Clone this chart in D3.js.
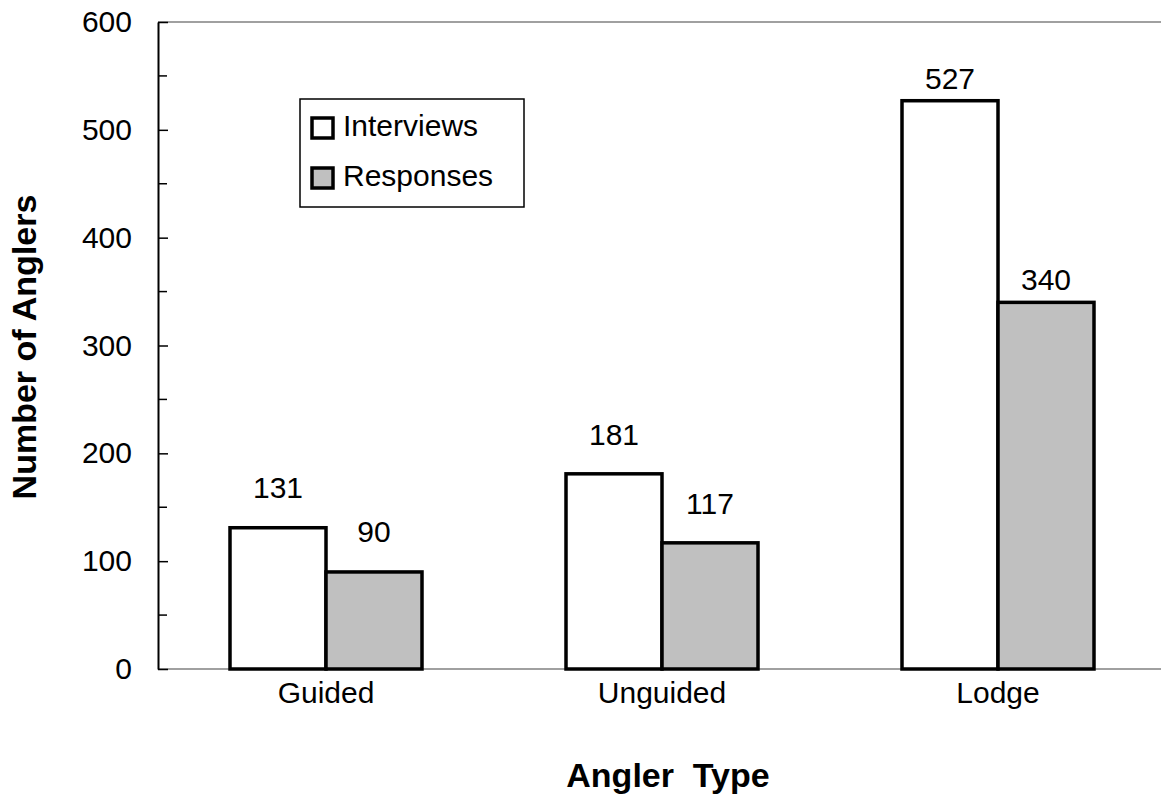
<!DOCTYPE html>
<html>
<head>
<meta charset="utf-8">
<script src="https://cdn.jsdelivr.net/npm/d3@7"></script>
<style>
  html, body { margin: 0; padding: 0; background: #fff; }
  svg { display: block; font-family: "Liberation Sans", Arial, sans-serif; }
</style>
</head>
<body>
<svg id="chart" width="1161" height="797"></svg>
<script>
// Angler survey counts by angler type
const categories = ["Guided", "Unguided", "Lodge"];
const seriesNames = ["Interviews", "Responses"];
const interviews = [131, 181, 527];
const responses = [90, 117, 340];
const yTicks = [0, 100, 200, 300, 400, 500, 600];

// label lift above each bar top (px), per category
const labelLift = [30, 29, 12];

const colors = { Interviews: "#ffffff", Responses: "#c0c0c0" };

const svg = d3.select("#chart");
const plot = { left: 158, top: 22, bottom: 669, right: 1166 };

const y = d3.scaleLinear().domain([0, 600]).range([plot.bottom, plot.top]);
const x = d3.scaleBand().domain(categories).range([plot.left, plot.right]).padding(0);
const xs = d3.scaleBand().domain(seriesNames)
  .range([x.bandwidth() * 72 / 336, x.bandwidth() * 264 / 336]).padding(0);

const rows = categories.map((c, i) => ({
  cat: c, idx: i,
  values: [
    { series: "Interviews", value: interviews[i] },
    { series: "Responses", value: responses[i] }
  ]
}));

// top frame line
svg.append("line")
  .attr("x1", plot.left).attr("x2", 1161)
  .attr("y1", y(600)).attr("y2", y(600))
  .attr("stroke", "#808080").attr("stroke-width", 1.5);

// bottom baseline
svg.append("line")
  .attr("x1", plot.left).attr("x2", 1161)
  .attr("y1", y(0)).attr("y2", y(0))
  .attr("stroke", "#808080").attr("stroke-width", 1.5);

// left axis with inward ticks (major + minor)
const minor = d3.range(50, 600, 100);
svg.append("g").selectAll("line").data(minor).join("line")
  .attr("x1", plot.left).attr("x2", plot.left + 9)
  .attr("y1", d => y(d)).attr("y2", d => y(d))
  .attr("stroke", "#000").attr("stroke-width", 1.5);

const yAxis = d3.axisLeft(y).tickValues(yTicks).tickSizeInner(-10).tickSizeOuter(0).tickPadding(26);
const gy = svg.append("g").attr("transform", `translate(${plot.left},0)`).call(yAxis);
gy.select(".domain").attr("stroke", "#000").attr("stroke-width", 2);
gy.selectAll(".tick line").attr("stroke", "#000").attr("stroke-width", 1.5);
gy.selectAll(".tick text")
  .attr("x", -26)
  .attr("font-size", 30).attr("fill", "#000")
  .attr("font-family", "Liberation Sans, Arial, sans-serif");

// bars
const groups = svg.append("g").selectAll("g").data(rows).join("g")
  .attr("transform", d => `translate(${x(d.cat)},0)`);

groups.selectAll("rect").data(d => d.values).join("rect")
  .attr("x", d => xs(d.series))
  .attr("width", xs.bandwidth())
  .attr("y", d => y(d.value))
  .attr("height", d => y(0) - y(d.value))
  .attr("fill", d => colors[d.series])
  .attr("stroke", "#000").attr("stroke-width", 3.5);

// value labels
groups.selectAll("text.val").data(d => d.values.map(v => ({ ...v, idx: d.idx }))).join("text")
  .attr("class", "val")
  .attr("x", d => xs(d.series) + xs.bandwidth() / 2)
  .attr("y", d => y(d.value) - labelLift[d.idx])
  .attr("text-anchor", "middle")
  .attr("font-size", 30).attr("fill", "#000")
  .text(d => d.value);

// category labels
svg.append("g").selectAll("text").data(categories).join("text")
  .attr("x", d => x(d) + x.bandwidth() / 2)
  .attr("y", 703)
  .attr("text-anchor", "middle")
  .attr("font-size", 30).attr("fill", "#000")
  .text(d => d);

// axis titles
svg.append("text")
  .attr("x", 668).attr("y", 787)
  .attr("text-anchor", "middle")
  .attr("font-size", 34).attr("font-weight", "bold")
  .attr("xml:space", "preserve")
  .text("Angler  Type");

svg.append("text")
  .attr("transform", `translate(36,347) rotate(-90)`)
  .attr("text-anchor", "middle")
  .attr("font-size", 34).attr("font-weight", "bold")
  .text("Number of Anglers");

// legend
const legend = svg.append("g").attr("transform", "translate(300,99)");
legend.append("rect")
  .attr("width", 224).attr("height", 108)
  .attr("fill", "#fff").attr("stroke", "#000").attr("stroke-width", 1.5);
const items = legend.selectAll("g").data(seriesNames).join("g")
  .attr("transform", (d, i) => `translate(12,${19 + i * 50})`);
items.append("rect")
  .attr("width", 21).attr("height", 20)
  .attr("fill", d => colors[d]).attr("stroke", "#000").attr("stroke-width", 3.5);
items.append("text")
  .attr("x", 31).attr("y", 18)
  .attr("font-size", 30).attr("fill", "#000")
  .text(d => d);
</script>
</body>
</html>
